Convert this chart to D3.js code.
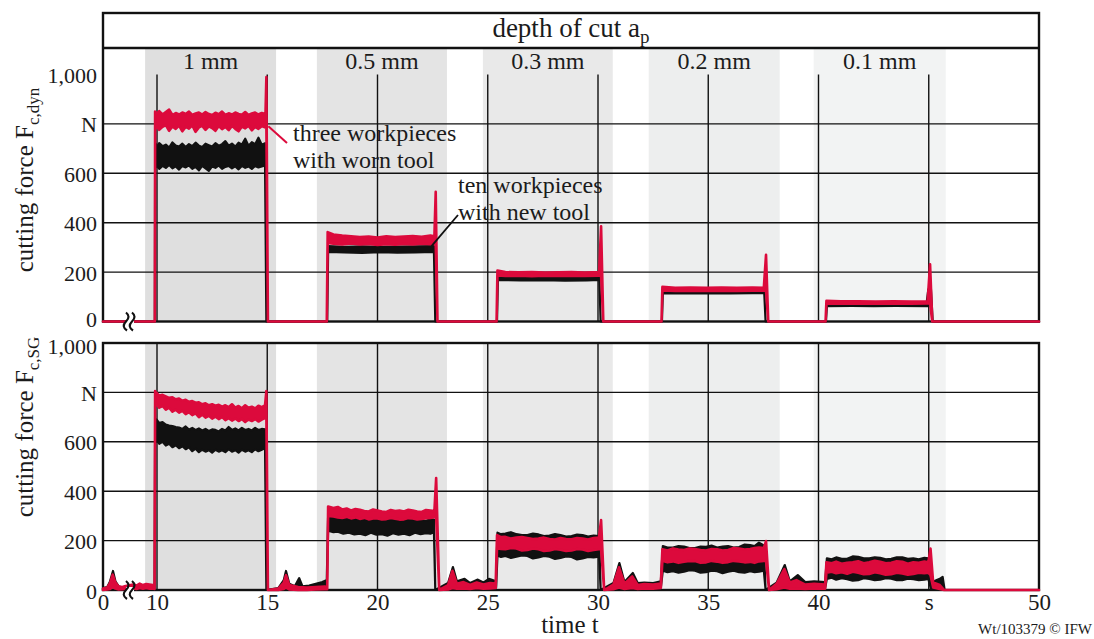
<!DOCTYPE html>
<html>
<head>
<meta charset="utf-8">
<script src="https://cdn.jsdelivr.net/npm/d3@7"></script>
<style>
body { margin: 0; background: #fff; }
svg { display: block; font-family: "Liberation Serif", "DejaVu Serif", serif; }
text { fill: #1b1b1b; }
</style>
</head>
<body>
<svg id="chart" width="1094" height="639"></svg>
<script>
// depth of cut sections (time span in s)
var depthLabels = ['1 mm', '0.5 mm', '0.3 mm', '0.2 mm', '0.1 mm']
var bandStart = [7.8, 17.25, 24.78, 32.3, 39.78]
var bandEnd = [15.4, 23.15, 30.67, 38.24, 45.77]

var yTicks = [0, 200, 400, 600, 800, 1000]
var yTickLabels = ['0', '200', '400', '600', 'N', '1,000']
var xTicks = [0, 10, 15, 20, 25, 30, 35, 40, 45, 50]
var xTickLabels = ['0', '10', '15', '20', '25', '30', '35', '40', 's', '50']
var xGrid = [10, 15, 20, 25, 30, 35, 40, 45]
var yGrid = [200, 400, 600, 800]

// [t, low, high] envelopes
var dynWorn = [[0,0,0],[9.6,0,0],
  [9.65,790,850],[9.8,782,846],[9.95,792,840],[10.1,776,852],[10.25,788,838],[10.4,795,848],[10.55,772,858],[10.7,790,836],[10.85,780,844],[11.0,793,838],[11.15,770,846],[11.3,788,840],[11.45,781,850],[11.6,794,836],[11.75,768,842],[11.9,786,846],[12.05,792,838],[12.2,776,848],[12.35,790,840],[12.5,783,836],[12.65,772,845],[12.8,791,839],[12.95,779,850],[13.1,788,836],[13.25,775,843],[13.4,792,838],[13.55,780,846],[13.7,770,840],[13.85,789,837],[14.0,782,848],[14.15,793,836],[14.3,774,842],[14.45,788,846],[14.6,780,838],[14.75,791,844],[14.92,785,840],
  [14.96,790,990],[15.03,0,0],
  [17.7,0,0],[17.74,318,362],[18.0,315,352],[18.4,312,348],[18.8,316,345],[19.2,312,342],[19.6,314,344],[20.0,310,340],[20.4,313,345],[20.8,311,342],[21.2,314,344],[21.6,312,346],[22.0,315,343],[22.4,313,348],[22.58,315,345],
  [22.64,315,525],[22.72,0,0],
  [25.4,0,0],[25.44,186,206],[25.8,184,200],[26.4,185,199],[27,183,200],[27.6,185,198],[28.2,184,199],[28.8,185,200],[29.4,184,198],[30.05,185,200],
  [30.14,185,385],[30.24,0,0],
  [32.88,0,0],[32.92,126,140],[33.5,124,136],[34.2,125,137],[34.9,124,136],[35.6,125,137],[36.3,124,136],[37.0,125,137],[37.52,125,136],
  [37.62,125,270],[37.72,0,0],
  [40.32,0,0],[40.36,73,84],[41,72,82],[41.8,73,82],[42.6,72,81],[43.4,73,82],[44.2,72,81],[44.95,73,82],
  [45.06,73,232],[45.16,0,0],
  [50,0,0]]

var dynNew = [[0,0,0],[9.6,0,0],
  [9.66,640,700],[9.8,625,718],[9.95,632,705],[10.1,618,722],[10.25,630,710],[10.4,622,716],[10.55,634,704],[10.7,620,725],[10.85,628,712],[11.0,615,708],[11.15,630,720],[11.3,624,706],[11.45,632,718],[11.6,618,710],[11.75,626,724],[11.9,612,712],[12.05,630,706],[12.2,620,720],[12.35,610,714],[12.5,628,708],[12.65,622,722],[12.8,632,712],[12.95,618,718],[13.1,626,730],[13.25,630,712],[13.4,620,720],[13.55,628,708],[13.7,616,724],[13.85,630,716],[14.0,622,740],[14.15,628,712],[14.3,618,726],[14.45,630,718],[14.6,624,744],[14.75,628,716],[14.9,632,722],
  [14.96,0,0],
  [17.72,0,0],[17.76,282,305],[18.5,280,302],[19.3,278,304],[20.1,281,302],[20.9,279,303],[21.7,280,304],[22.56,282,305],[22.62,0,0],
  [25.42,0,0],[25.46,168,185],[26.5,166,184],[27.5,167,183],[28.5,165,184],[29.5,166,183],[30.06,168,184],[30.12,0,0],
  [32.9,0,0],[32.94,115,128],[34,114,127],[35,115,128],[36,114,127],[37.0,115,128],[37.54,115,128],[37.6,0,0],
  [40.34,0,0],[40.38,62,72],[41.5,63,72],[42.5,62,71],[43.5,63,72],[44.9,62,72],[44.98,62,130],[45.1,100,130],[45.18,0,0],
  [50,0,0]]

var sgWorn = [[0,0,6],[0.8,2,10],[1.3,4,28],[1.8,12,62],[2.3,6,30],[2.9,2,14],[3.6,3,12],[4.2,4,16],[5.6,6,22],[6.2,4,18],[6.8,8,26],[7.4,5,20],[8.0,8,24],[8.6,5,22],[9.2,6,20],[9.55,4,18],
  [9.65,760,805],[9.8,748,792],[9.95,752,798],[10.1,738,786],[10.25,745,790],[10.4,730,784],[10.55,738,778],[10.7,722,780],[10.85,730,772],[11.0,718,775],[11.15,725,766],[11.3,712,770],[11.45,720,762],[11.6,708,765],[11.75,715,758],[11.9,700,760],[12.05,710,752],[12.2,698,756],[12.35,705,748],[12.5,694,752],[12.65,702,746],[12.8,692,750],[12.95,700,742],[13.1,688,748],[13.25,696,740],[13.4,686,752],[13.55,694,738],[13.7,684,745],[13.85,692,736],[14.0,680,748],[14.15,690,738],[14.3,684,742],[14.45,692,735],[14.6,682,746],[14.75,690,740],[14.9,696,748],
  [14.96,700,805],[15.03,0,0],
  [15.5,0,6],[15.75,4,30],[15.85,10,60],[16.0,2,20],[16.4,0,12],[16.8,0,10],[17.2,2,12],[17.6,3,14],[17.72,3,12],
  [17.76,300,338],[18.0,298,332],[18.2,294,336],[18.4,292,326],[18.6,296,330],[18.8,290,322],[19.0,294,328],[19.2,288,325],[19.4,292,320],[19.6,286,318],[19.8,290,326],[20.0,290,322],[20.2,286,318],[20.4,287,316],[20.6,292,324],[20.8,289,320],[21.0,285,322],[21.2,286,318],[21.4,291,325],[21.6,290,322],[21.8,286,318],[22.0,288,316],[22.2,291,324],[22.4,292,322],[22.58,295,320],
  [22.66,295,453],[22.8,0,0],
  [23.2,2,20],[23.4,8,78],[23.6,5,25],[23.9,6,32],[24.2,4,20],[24.5,8,30],[24.8,5,22],[25.1,6,28],[25.36,8,26],
  [25.42,170,222],[25.6,166,214],[25.8,165,215],[26.05,170,208],[26.3,168,212],[26.55,160,214],[26.8,162,210],[27.05,168,206],[27.3,165,208],[27.55,158,212],[27.8,160,206],[28.05,166,204],[28.3,163,210],[28.55,158,206],[28.8,160,205],[29.05,166,210],[29.3,164,208],[29.55,158,204],[29.8,162,210],[30.04,165,212],
  [30.14,165,283],[30.28,0,0],
  [30.7,3,22],[30.95,10,92],[31.2,4,26],[31.55,8,55],[31.8,4,20],[32.1,6,24],[32.5,5,22],[32.85,8,26],
  [32.92,118,165],[33.15,112,160],[33.4,116,168],[33.65,110,164],[33.9,114,162],[34.15,118,168],[34.4,117,166],[34.65,110,162],[34.9,112,160],[35.15,118,166],[35.4,115,165],[35.65,110,160],[35.9,113,162],[36.15,118,170],[36.4,116,168],[36.65,112,164],[36.9,114,166],[37.1,110,170],[37.3,116,172],[37.52,118,170],
  [37.62,118,198],[37.76,0,0],
  [38.1,3,25],[38.45,10,85],[38.7,5,30],[39.0,6,40],[39.4,4,22],[39.8,6,25],[40.3,5,22],
  [40.36,70,112],[40.6,74,108],[40.8,68,115],[41.05,72,106],[41.3,66,110],[41.55,74,112],[41.8,70,116],[42.05,64,108],[42.3,65,112],[42.55,72,118],[42.8,68,114],[43.05,62,108],[43.3,64,110],[43.55,70,116],[43.8,67,114],[44.05,62,106],[44.3,65,112],[44.55,70,110],[44.8,68,115],[44.98,70,112],
  [45.08,60,168],[45.2,10,30],[45.5,4,20],[45.7,0,0],
  [50,0,0]]

var sgNew = [[0,0,8],[0.8,2,12],[1.3,5,35],[1.85,12,77],[2.3,6,35],[2.9,3,15],[3.6,2,10],[4.2,3,12],[5.6,2,14],[6.4,3,12],[7.2,2,14],[8.0,3,12],[8.8,2,10],[9.55,2,10],
  [9.66,612,695],[9.8,600,685],[9.95,608,690],[10.1,592,676],[10.25,600,680],[10.4,585,670],[10.55,592,666],[10.7,578,664],[10.85,586,660],[11.0,574,658],[11.15,582,652],[11.3,570,662],[11.45,578,650],[11.6,562,656],[11.75,572,648],[11.9,558,654],[12.05,568,646],[12.2,560,652],[12.35,566,644],[12.5,556,650],[12.65,568,648],[12.8,560,642],[12.95,566,652],[13.1,558,646],[13.25,570,660],[13.4,560,648],[13.55,566,654],[13.7,556,646],[13.85,568,656],[14.0,560,648],[14.15,566,652],[14.3,558,646],[14.45,570,656],[14.6,562,648],[14.75,568,652],[14.9,575,650],
  [14.96,0,0],
  [15.5,0,8],[15.75,5,40],[15.85,12,77],[16.0,4,25],[16.25,2,15],[16.45,8,48],[16.6,4,15],[16.9,4,18],[17.2,6,25],[17.5,8,32],[17.7,12,40],
  [17.76,240,298],[18.0,234,294],[18.2,236,292],[18.45,228,290],[18.7,232,286],[18.95,225,292],[19.2,228,290],[19.45,222,286],[19.7,232,284],[19.95,224,288],[20.2,226,282],[20.45,220,288],[20.7,230,286],[20.95,224,280],[21.2,228,282],[21.45,222,288],[21.7,232,286],[21.95,226,282],[22.2,230,280],[22.4,228,286],[22.56,235,285],[22.62,0,0],
  [23.2,4,28],[23.42,10,93],[23.6,6,35],[23.95,8,45],[24.2,5,28],[24.55,8,42],[24.8,5,30],[25.05,8,45],[25.38,10,35],
  [25.44,140,232],[25.6,134,226],[25.8,138,228],[26.05,130,234],[26.3,135,226],[26.55,140,222],[26.8,138,222],[27.05,128,228],[27.3,132,225],[27.55,138,218],[27.8,135,220],[28.05,126,226],[28.3,130,222],[28.55,136,216],[28.8,134,218],[29.05,124,224],[29.3,128,222],[29.55,134,216],[29.8,132,220],[30.05,135,218],[30.12,0,0],
  [30.7,5,28],[30.97,12,109],[31.2,6,32],[31.58,10,69],[31.8,5,28],[32.1,8,30],[32.5,6,28],[32.85,10,35],
  [32.94,78,178],[33.15,72,172],[33.4,76,172],[33.65,70,178],[33.9,74,176],[34.15,80,170],[34.4,78,170],[34.65,70,176],[34.9,72,175],[35.15,78,180],[35.4,76,172],[35.65,68,176],[35.9,74,178],[36.15,78,172],[36.4,72,174],[36.65,70,184],[36.9,76,182],[37.1,72,178],[37.3,74,192],[37.52,78,180],[37.6,0,0],
  [38.1,5,30],[38.47,12,101],[38.7,6,35],[39.06,10,60],[39.4,5,32],[39.8,8,35],[40.3,8,32],
  [40.38,45,128],[40.6,50,124],[40.8,42,132],[41.05,48,126],[41.3,44,126],[41.55,38,136],[41.8,40,134],[42.05,48,128],[42.3,45,128],[42.55,40,132],[42.8,42,130],[43.05,48,124],[43.3,46,126],[43.55,40,132],[43.8,40,132],[44.05,46,126],[44.3,44,128],[44.55,40,124],[44.8,42,130],[44.98,45,128],
  [45.1,5,30],[45.5,10,45],[45.63,15,53],[45.72,0,0],
  [50,0,0]]

var bandColors = ['#dfdfdf', '#e4e4e4', '#e9e9e9', '#edeeee', '#f2f3f3']
var red = '#dc0a3c', black = '#111'

var svg = d3.select('#chart')
var left = 103, right = 1039
// time axis is squeezed before 10 s (axis break)
var x = d3.scaleLinear().domain([0, 10, 50]).range([left, 157, right])
var yTop = d3.scaleLinear().domain([0, 1000]).range([321.5, 74.5])
var yBot = d3.scaleLinear().domain([0, 1000]).range([590, 343])

var bands = depthLabels.map((label, i) => ({ label, t0: bandStart[i], t1: bandEnd[i], color: bandColors[i] }))

// shaded sections: header row + top plot, and bottom plot
var bandG = svg.append('g')
bandG.selectAll('.bt').data(bands).enter().append('rect')
  .attr('x', d => x(d.t0)).attr('width', d => x(d.t1) - x(d.t0))
  .attr('y', 49).attr('height', yTop(0) - 49)
  .attr('fill', d => d.color)
bandG.selectAll('.bb').data(bands).enter().append('rect')
  .attr('x', d => x(d.t0)).attr('width', d => x(d.t1) - x(d.t0))
  .attr('y', yBot(1000)).attr('height', yBot(0) - yBot(1000))
  .attr('fill', d => d.color)

svg.append('g').selectAll('text').data(bands).enter().append('text')
  .attr('x', d => (x(d.t0) + x(d.t1)) / 2).attr('y', 69)
  .attr('text-anchor', 'middle').attr('font-size', 24)
  .text(d => d.label)

var drawPanel = (y, worn, fresh, titleSub, titleY, isTop) => {
  var g = svg.append('g')
  // grid
  g.selectAll('.gx').data(xGrid).enter().append('line')
    .attr('x1', d => x(d)).attr('x2', d => x(d))
    .attr('y1', y(1000)).attr('y2', y(0))
    .attr('stroke', '#111').attr('stroke-width', 1.4)
  g.selectAll('.gy').data(yGrid).enter().append('line')
    .attr('x1', left).attr('x2', right)
    .attr('y1', d => y(d)).attr('y2', d => y(d))
    .attr('stroke', '#111').attr('stroke-width', 1.4)

  // y axis labels (the 0 / 1,000 pair between the panels is pushed apart a little)
  var ax = g.append('g').attr('transform', 'translate(' + (left - 6) + ',1)')
    .call(d3.axisLeft(y).tickValues(yTicks).tickSize(0).tickPadding(0)
          .tickFormat((d, i) => yTickLabels[i]))
  ax.select('.domain').remove()
  ax.selectAll('text').attr('font-size', 22).attr('font-family', '"Liberation Serif", serif').attr('fill', '#1b1b1b')
    .attr('dy', d => (isTop && d === 0) ? '0.2em' : (!isTop && d === 1000) ? '0.44em' : '0.32em')

  var area = d3.area().x(d => x(d[0])).y0(d => y(d[1])).y1(d => y(d[2]))
  g.append('path').datum(fresh).attr('d', area)
    .attr('fill', black).attr('stroke', black).attr('stroke-width', 2.2).attr('stroke-linejoin', 'round')
  g.append('path').datum(worn).attr('d', area)
    .attr('fill', red).attr('stroke', red).attr('stroke-width', 2.6).attr('stroke-linejoin', 'round')

  // axis break
  var bx = x(5), by = y(0)
  g.append('rect').attr('x', bx - 4).attr('y', by - 3).attr('width', 8).attr('height', 6).attr('fill', '#fff')
  ;[-3, 3].forEach(dx => {
    g.append('path')
      .attr('d', 'M' + (bx + dx - 1) + ',' + (by - 9) + ' q5,4 0,9 q-5,5 1,9')
      .attr('fill', 'none').attr('stroke', '#111').attr('stroke-width', 2.2)
  })

  // y title
  var t = g.append('text').attr('transform', 'translate(33,' + titleY + ') rotate(-90)')
    .attr('text-anchor', 'middle').attr('font-size', 25)
  t.append('tspan').text('cutting force F')
  t.append('tspan').attr('font-size', 17).attr('dy', 6).text(titleSub)
}

// frames
var frame = svg.append('g').attr('fill', 'none').attr('stroke', '#111').attr('stroke-width', 2.4)
frame.append('rect').attr('x', left).attr('y', 13).attr('width', right - left).attr('height', yTop(0) - 13)
frame.append('line').attr('x1', left).attr('x2', right).attr('y1', 48).attr('y2', 48)
frame.append('rect').attr('x', left).attr('y', yBot(1000)).attr('width', right - left).attr('height', yBot(0) - yBot(1000))

drawPanel(yTop, dynWorn, dynNew, 'c,dyn', 180, true)
drawPanel(yBot, sgWorn, sgNew, 'c,SG', 427, false)

// header title
var head = svg.append('text').attr('x', 571).attr('y', 37).attr('text-anchor', 'middle').attr('font-size', 27)
head.append('tspan').text('depth of cut a')
head.append('tspan').attr('font-size', 19).attr('dy', 6).text('p')

// x axis
var xa = svg.append('g').attr('transform', 'translate(0,' + (yBot(0) + 4) + ')')
  .call(d3.axisBottom(x).tickValues(xTicks).tickSize(0).tickPadding(0)
        .tickFormat((d, i) => xTickLabels[i]))
xa.select('.domain').remove()
xa.selectAll('text').attr('font-size', 23).attr('font-family', '"Liberation Serif", serif').attr('fill', '#1b1b1b')

svg.append('text').attr('x', 570).attr('y', 633).attr('text-anchor', 'middle').attr('font-size', 25).text('time t')
svg.append('text').attr('x', 1092).attr('y', 634).attr('text-anchor', 'end').attr('font-size', 15).text('Wt/103379 © IFW')

// annotations
svg.append('line').attr('x1', x(15.05)).attr('y1', yTop(790)).attr('x2', 287).attr('y2', 143)
  .attr('stroke', red).attr('stroke-width', 2)
svg.append('text').attr('x', 293).attr('y', 141).attr('font-size', 24).text('three workpieces')
svg.append('text').attr('x', 293).attr('y', 168).attr('font-size', 24).text('with worn tool')

svg.append('line').attr('x1', x(22.45)).attr('y1', yTop(305)).attr('x2', 458).attr('y2', 215)
  .attr('stroke', '#111').attr('stroke-width', 1.8)
svg.append('text').attr('x', 458).attr('y', 193).attr('font-size', 24).text('ten workpieces')
svg.append('text').attr('x', 458).attr('y', 220).attr('font-size', 24).text('with new tool')
</script>
</body>
</html>
